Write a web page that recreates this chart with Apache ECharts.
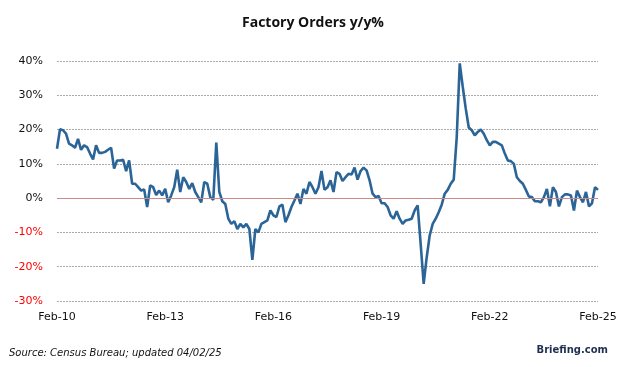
<!DOCTYPE html>
<html>
<head>
<meta charset="utf-8">
<script src="https://cdn.jsdelivr.net/npm/echarts@6/dist/echarts.min.js"></script>
<style>html,body{margin:0;padding:0;background:#fff;}#c{width:626px;height:367px;}</style>
</head>
<body>
<div id="c"></div>
<script>
var titleText = "Factory Orders y/y%";
var sourceText = "Source: Census Bureau; updated 04/02/25";
var brandText = "Briefing.com";
var startYear = 2010, startMonth = 1; // Feb 2010
var monthNames = ["Jan","Feb","Mar","Apr","May","Jun","Jul","Aug","Sep","Oct","Nov","Dec"];
var yTicks = [-30, -20, -10, 0, 10, 20, 30, 40];

var values2010_2012 = [14.4,20.1,19.8,18.8,15.9,15.4,14.7,17.3,14.1,15.4,14.9,13.0,11.3,15.4,13.2,13.2,13.5,14.1,14.7,8.6,11.0,11.0,11.2,7.9,11.0,4.2,4.2,3.2,2.2,2.5,-2.6,3.7,3.2,0.9,2.2,0.8];
var values2013_2015 = [2.7,-1.2,0.8,3.2,8.3,1.8,6.1,4.7,2.7,4.4,1.8,0.3,-1.2,4.7,4.2,0.3,-0.5,16.2,1.8,-0.9,-1.7,-6.0,-7.5,-6.7,-9.0,-7.5,-8.5,-7.5,-9.0,-18.0,-9.0,-10.0,-7.5,-7.0,-6.5,-3.6];
var values2016_2018 = [-5.0,-5.5,-2.4,-1.9,-7.0,-5.0,-2.6,-0.7,1.3,-1.7,2.7,1.3,4.7,3.2,1.3,3.2,7.9,2.4,3.2,5.2,1.8,7.6,7.1,5.0,6.1,7.1,6.9,8.9,5.4,7.9,8.9,8.1,5.2,1.3,0.3,0.6];
var values2019_2021 = [-1.5,-1.5,-2.6,-5.0,-6.0,-3.8,-6.0,-7.5,-6.5,-6.3,-6.0,-3.6,-2.1,-13.4,-25.0,-17.3,-10.9,-7.5,-6.0,-4.1,-1.9,1.3,2.4,4.2,5.4,17.8,39.3,32.5,26.1,20.6,19.8,18.3,19.3,20.0,18.8,16.9];
var values2022_2025 = [15.4,16.4,16.4,15.9,15.4,13.0,11.0,10.8,10.0,6.1,5.0,4.2,2.4,0.5,0.3,-0.9,-0.9,-1.2,0.3,2.7,-2.4,3.2,1.8,-2.4,0.3,1.1,1.1,0.8,-3.6,2.2,0.3,-1.2,1.8,-2.4,-1.5,3.2,2.4];

var values = [].concat(values2010_2012, values2013_2015, values2016_2018, values2019_2021, values2022_2025);
var categories = [];
for (var k = 0; k < values.length; k++) {
  var m = (startMonth + k) % 12;
  var y = startYear + Math.floor((startMonth + k) / 12);
  categories.push(monthNames[m] + "-" + String(y).slice(2));
}

var chart = echarts.init(document.getElementById('c'), null, {renderer: 'canvas'});
chart.setOption({
  animation: false,
  backgroundColor: '#ffffff',
  title: {
    text: titleText, left: 'center', top: 11,
    textStyle: {fontFamily: 'Open Sans', fontWeight: 'bold', fontSize: 14, color: '#111'}
  },
  grid: {left: 57, right: 28, top: 61, bottom: 66},
  xAxis: {
    type: 'category', data: categories, boundaryGap: false,
    axisLine: {show: false}, axisTick: {show: false},
    axisLabel: {
      interval: function (i) { return i % 36 === 0; },
      margin: 11, color: '#111', fontFamily: 'DejaVu Sans', fontSize: 11
    },
    splitLine: {show: false}
  },
  yAxis: {
    type: 'value', min: -30, max: 40, interval: 10,
    axisLine: {show: false}, axisTick: {show: false},
    axisLabel: {
      margin: 14, fontFamily: 'DejaVu Sans', fontSize: 11,
      formatter: function (v) { return v + '%'; },
      color: function (v) { return Number(v) < 0 ? '#ff0000' : '#111'; }
    },
    splitLine: {lineStyle: {color: '#aaaaaa', type: [2, 1], width: 1}}
  },
  series: [{
    type: 'line', data: values, showSymbol: false, symbol: 'none',
    lineStyle: {color: '#2b6496', width: 2.6},
    markLine: {
      silent: true, symbol: 'none', label: {show: false},
      lineStyle: {color: '#c98a8a', type: 'solid', width: 1},
      data: [{yAxis: 0}]
    },
    z: 3
  }],
  graphic: [
    {type: 'text', left: 9, top: 348, style: {text: sourceText, fontFamily: 'DejaVu Sans', fontStyle: 'italic', fontSize: 10, fill: '#111'}},
    {type: 'text', right: 18, top: 345, style: {text: brandText, fontFamily: 'DejaVu Sans', fontWeight: 'bold', fontSize: 10, fill: '#1e2f4f'}}
  ]
});
</script>
</body>
</html>
